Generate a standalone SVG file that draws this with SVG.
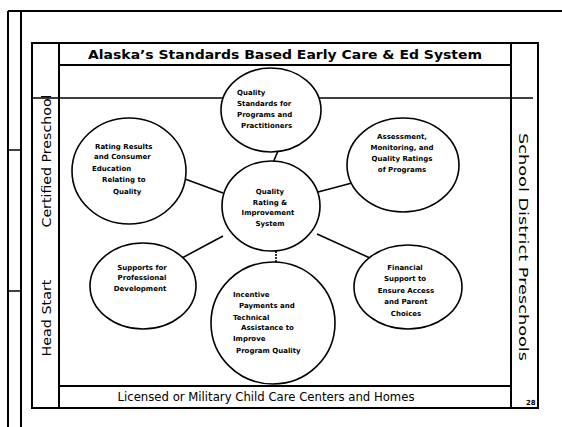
<svg xmlns="http://www.w3.org/2000/svg" width="562" height="427" viewBox="0 0 562 427">
<style>
.frame{fill:none;stroke:#000;stroke-width:2}
.thin{fill:none;stroke:#000;stroke-width:1.5}
.node ellipse{fill:#fff;stroke:#000;stroke-width:1.6}
.conn line{stroke:#000;stroke-width:1.6}
.ct{font-family:"DejaVu Sans",Verdana,sans-serif;font-weight:bold;font-size:7px;fill:#000}
.side{font-family:"DejaVu Sans",Verdana,sans-serif;font-size:13px;fill:#000}
</style>
<rect width="562" height="427" fill="#fff"/>
<g id="frame">
<line class="frame" x1="8" y1="11" x2="562" y2="11"/>
<line class="frame" x1="8" y1="11" x2="8" y2="427"/>
<line class="frame" x1="21" y1="11" x2="21" y2="427"/>
<line class="thin" x1="8" y1="150" x2="21" y2="150"/>
<line class="thin" x1="8" y1="291" x2="21" y2="291"/>
<rect class="frame" x="32" y="43" width="506" height="365"/>
<line class="frame" x1="59" y1="43" x2="59" y2="408"/>
<line class="frame" x1="511" y1="43" x2="511" y2="408"/>
<line class="frame" x1="59" y1="65" x2="511" y2="65"/>
<line class="frame" x1="59" y1="386" x2="511" y2="386"/>
</g>
<g id="title"><text x="285" y="59" text-anchor="middle" font-family="'DejaVu Sans',Verdana,sans-serif" font-weight="bold" font-size="12" textLength="394" lengthAdjust="spacingAndGlyphs">Alaska’s Standards Based Early Care &amp; Ed System</text></g>
<g id="bottom-label"><text x="266" y="401" text-anchor="middle" font-family="'DejaVu Sans',Verdana,sans-serif" font-size="11.5" textLength="297" lengthAdjust="spacingAndGlyphs">Licensed or Military Child Care Centers and Homes</text></g>
<g id="certified-preschool"><text class="side" transform="translate(51,161) rotate(-90)" text-anchor="middle" textLength="133" lengthAdjust="spacingAndGlyphs">Certified Preschool</text></g>
<g id="head-start"><text class="side" transform="translate(51,318) rotate(-90)" text-anchor="middle" textLength="77" lengthAdjust="spacingAndGlyphs">Head Start</text></g>
<g id="school-district"><text class="side" transform="translate(519,247) rotate(90)" text-anchor="middle" textLength="228" lengthAdjust="spacingAndGlyphs">School District Preschools</text></g>
<text x="526" y="405" font-family="'DejaVu Sans',sans-serif" font-weight="bold" font-size="7">28</text>
<g id="connectors" class="conn">
<line x1="32" y1="98" x2="533" y2="98"/>
<line x1="278" y1="151" x2="272" y2="165"/>
<line x1="185" y1="179" x2="223" y2="193"/>
<line x1="352" y1="183" x2="318" y2="192"/>
<line x1="182" y1="258" x2="223" y2="236"/>
<line x1="317" y1="234" x2="370" y2="258"/>
<line x1="276" y1="251" x2="276" y2="263" stroke-width="1" stroke-dasharray="2 1"/>
</g>
<g id="quality-standards" class="node">
<ellipse cx="271" cy="110" rx="50" ry="42"/>
<text class="ct" font-size="7.5"><tspan x="237" y="95">Quality</tspan><tspan x="237" y="106">Standards for</tspan><tspan x="237" y="117">Programs and</tspan><tspan x="241" y="128">Practitioners</tspan></text>
</g>
<g id="qris" class="node">
<ellipse cx="271" cy="206" rx="49" ry="45"/>
<text class="ct" font-size="8.5" text-anchor="middle"><tspan x="270" y="194">Quality</tspan><tspan x="270" y="205">Rating &amp;</tspan><tspan x="268" y="215">Improvement</tspan><tspan x="270" y="226">System</tspan></text>
</g>
<g id="rating-results" class="node">
<ellipse cx="129" cy="171" rx="57" ry="53"/>
<text class="ct" font-size="7.5"><tspan x="95" y="149">Rating Results</tspan><tspan x="94" y="159">and Consumer</tspan><tspan x="92" y="171">Education</tspan><tspan x="102" y="182">Relating to</tspan><tspan x="113" y="194">Quality</tspan></text>
</g>
<g id="assessment" class="node">
<ellipse cx="403" cy="165" rx="56" ry="47"/>
<text class="ct" font-size="7.5" text-anchor="middle"><tspan x="402" y="139">Assessment,</tspan><tspan x="402" y="150">Monitoring, and</tspan><tspan x="402" y="161">Quality Ratings</tspan><tspan x="402" y="172">of Programs</tspan></text>
</g>
<g id="supports" class="node">
<ellipse cx="143" cy="286" rx="53" ry="43"/>
<text class="ct" font-size="7.5" text-anchor="middle"><tspan x="142" y="270">Supports for</tspan><tspan x="142" y="280">Professional</tspan><tspan x="140" y="291">Development</tspan></text>
</g>
<g id="financial" class="node">
<ellipse cx="408" cy="287" rx="54" ry="42"/>
<text class="ct" font-size="7.5" text-anchor="middle"><tspan x="405" y="270">Financial</tspan><tspan x="405" y="281">Support to</tspan><tspan x="406" y="293">Ensure Access</tspan><tspan x="406" y="304">and Parent</tspan><tspan x="406" y="316">Choices</tspan></text>
</g>
<g id="incentive" class="node">
<ellipse cx="273" cy="323" rx="62" ry="61"/>
<text class="ct" font-size="7.5"><tspan x="233" y="297">Incentive</tspan><tspan x="239" y="308">Payments and</tspan><tspan x="233" y="320">Technical</tspan><tspan x="241" y="330">Assistance to</tspan><tspan x="233" y="341">Improve</tspan><tspan x="236" y="353">Program Quality</tspan></text>
</g>
</svg>
